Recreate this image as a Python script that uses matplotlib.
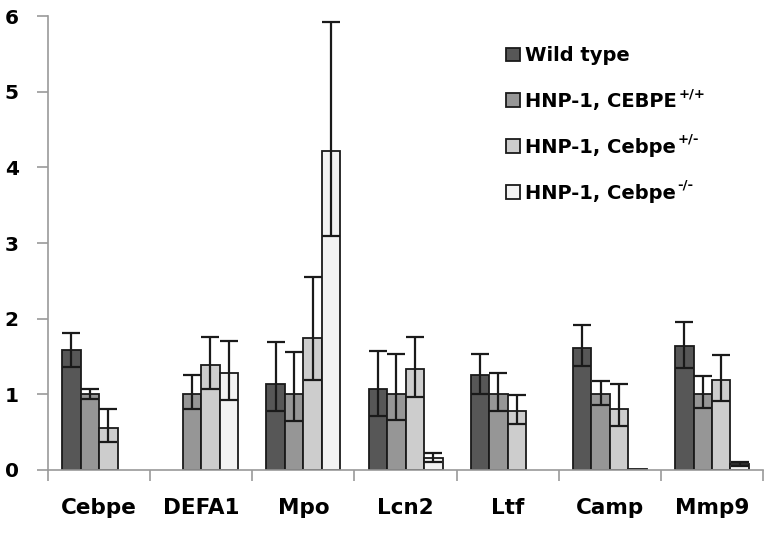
import numpy as np
import matplotlib
matplotlib.use("Agg")
import matplotlib.pyplot as plt

genes = ["Cebpe", "DEFA1", "Mpo", "Lcn2", "Ltf", "Camp", "Mmp9"]
groups = ["Wild type", "HNP-1, CEBPE", "HNP-1, Cebpe", "HNP-1, Cebpe"]
genotypes = ["", "+/+", "+/-", "-/-"]
colors = ["#575757", "#969696", "#cdcdcd", "#f3f3f3"]

# NaN = no bar drawn for that gene
wild_type = [1.58, np.nan, 1.13, 1.07, 1.25, 1.61, 1.64]
wild_type_hi = [1.815, np.nan, 1.69, 1.57, 1.53, 1.91, 1.95]
wild_type_lo = [1.36, np.nan, 0.78, 0.71, 1.00, 1.37, 1.35]

het_pp = [1.0, 1.0, 1.0, 1.0, 1.0, 1.0, 1.0]
het_pp_hi = [1.07, 1.25, 1.555, 1.53, 1.28, 1.175, 1.24]
het_pp_lo = [0.94, 0.80, 0.645, 0.66, 0.785, 0.86, 0.815]

het_pm = [0.55, 1.385, 1.74, 1.33, 0.775, 0.81, 1.185]
het_pm_hi = [0.80, 1.76, 2.545, 1.76, 0.985, 1.14, 1.52]
het_pm_lo = [0.37, 1.07, 1.195, 0.965, 0.61, 0.58, 0.91]

ko = [np.nan, 1.285, 4.21, 0.155, np.nan, 0.008, 0.08]
ko_hi = [np.nan, 1.71, 5.92, 0.23, np.nan, 0.008, 0.10]
ko_lo = [np.nan, 0.92, 3.09, 0.10, np.nan, 0.008, 0.057]

series = [(wild_type, wild_type_lo, wild_type_hi),
          (het_pp, het_pp_lo, het_pp_hi),
          (het_pm, het_pm_lo, het_pm_hi),
          (ko, ko_lo, ko_hi)]

plt.rcParams["font.family"] = "DejaVu Sans"
plt.rcParams["font.weight"] = "bold"

fig = plt.figure(figsize=(7.70, 5.47), dpi=100)
ax = fig.add_axes([0.0623, 0.1408, 0.9287, 0.8299])

x = np.arange(len(genes))
width = 0.181
for i, (vals, lo, hi) in enumerate(series):
    vals = np.array(vals, dtype=float)
    lo = np.array(lo, dtype=float)
    hi = np.array(hi, dtype=float)
    pos = x + (i - 1.5) * width
    ok = ~np.isnan(vals)
    ax.bar(pos[ok], vals[ok], width, color=colors[i], edgecolor="#1a1a1a",
           linewidth=1.3, label=groups[i], zorder=2)
    err = np.vstack([vals - lo, hi - vals])
    mask = ok & ((hi - lo) > 0.001)
    ax.errorbar(pos[mask], vals[mask], yerr=err[:, mask], fmt="none",
                ecolor="#1a1a1a", elinewidth=1.6, capsize=6.5, capthick=1.6, zorder=3)

ax.set_xlim(-0.5, len(genes) - 0.5)
ax.set_ylim(0, 6)
ax.set_yticks(range(0, 7))
ax.set_yticklabels([str(v) for v in range(0, 7)], fontsize=14.5, fontweight="bold")

ax.set_xticks(x)
ax.set_xticklabels(genes, fontsize=15.5, fontweight="bold")
ax.tick_params(axis="x", length=0, pad=20)
ax.set_xticks(np.arange(-0.5, len(genes)), minor=True)
ax.tick_params(axis="x", which="minor", length=8, color="#9a9a9a", width=1.2)
ax.tick_params(axis="y", length=8, color="#9a9a9a", width=1.2, pad=13)

for side in ["top", "right"]:
    ax.spines[side].set_visible(False)
for side in ["left", "bottom"]:
    ax.spines[side].set_color("#9a9a9a")
    ax.spines[side].set_linewidth(1.2)

leg = ax.legend(loc="upper left", bbox_to_anchor=(0.616, 0.972), frameon=False,
                prop={"weight": "bold", "size": 14}, handlelength=0.7, handleheight=0.7,
                handletextpad=0.3, labelspacing=1.38)

# genotype superscripts after the legend labels
fig.canvas.draw()
W, H = fig.bbox.width, fig.bbox.height
for t, g in zip(leg.get_texts(), genotypes):
    if not g:
        continue
    bb = t.get_window_extent()
    fig.text((bb.x1 + 1) / W, (bb.y1 - 5) / H, g, fontsize=9.5, fontweight="bold",
             ha="left", va="baseline")

plt.savefig("out.png", dpi=100)
plt.close()
